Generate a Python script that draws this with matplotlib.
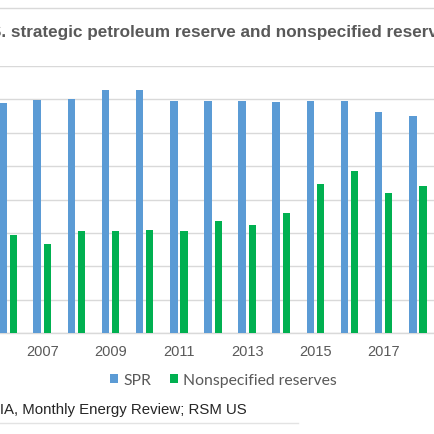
import numpy as np
import matplotlib
matplotlib.use("Agg")
import matplotlib.pyplot as plt
from matplotlib.lines import Line2D

# end-of-year stocks, million barrels
years = [2006, 2007, 2008, 2009, 2010, 2011, 2012, 2013, 2014, 2015, 2016, 2017, 2018]
spr = [689, 697, 702, 727, 727, 696, 695, 696, 691, 695, 695, 663, 649]
nonspec = [293, 267, 305, 305, 310, 305, 336, 324, 360, 446, 484, 419, 441]

title = "U.S. strategic petroleum reserve and nonspecified reserves"
source = "Source: EIA, Monthly Energy Review; RSM US"

W = H = 435
fig = plt.figure(figsize=(4.35, 4.35), dpi=100)
fig.patch.set_facecolor("white")

# plot area, partly outside the crop
step = 34.14
x0 = 8.2 - 0.5 * step
x1 = 8.2 + 12.6 * step
ax = fig.add_axes([x0 / W, (H - 334) / H, (x1 - x0) / W, (334 - 67) / H])

idx = np.arange(len(years))
ax.bar(idx - 0.151, spr, width=0.222, color="#5B9BD5", linewidth=0, label="SPR", zorder=3)
ax.bar(idx + 0.151, nonspec, width=0.21, color="#00B050", linewidth=0,
       label="Nonspecified reserves", zorder=3)

ax.set_xlim(-0.5, 12.6)
ax.set_ylim(0, 800)
ax.set_yticks(np.arange(0, 801, 100))
ax.yaxis.grid(True, color="#D9D9D9", linewidth=1.0, zorder=0)
ax.tick_params(axis="y", left=False, labelleft=False)
ax.set_xticks(idx[1::2])
ax.set_xticklabels([str(y) for y in years[1::2]], fontsize=10.5, color="#595959", family="Liberation Sans")
ax.tick_params(axis="x", length=0, pad=8)
for s in ["left", "right", "top"]:
    ax.spines[s].set_visible(False)
ax.spines["bottom"].set_color("#D9D9D9")
ax.spines["bottom"].set_linewidth(1.0)

renderer = fig.canvas.get_renderer()

def place(text, prefix, xstart, ycenter, **kw):
    # put text so that the part after prefix starts at xstart pixels
    t = fig.text(0, 0, prefix, **kw)
    w = t.get_window_extent(renderer).width
    t.remove()
    fig.text((xstart - w) / W, 1 - ycenter / H, text, va="center", ha="left", **kw)

place(title, "U.S", 1, 33, fontsize=12.3, fontweight="bold", color="#595959", family="Liberation Sans")
place(source, "Source: E", 0.3, 410.5, fontsize=10.85, color="#262626", family="Liberation Sans")

leg = fig.legend(loc="center left", bbox_to_anchor=(110 / W, 1 - 381 / H), ncol=2, frameon=False,
                 prop={"family": "Lato", "size": 11.3}, labelcolor="#595959",
                 borderpad=0, borderaxespad=0,
                 handlelength=0.53, handleheight=0.57, handletextpad=0.32, columnspacing=1.2)

fig.add_artist(Line2D([0, 1], [1 - 9 / H, 1 - 9 / H], color="#D9D9D9", linewidth=1.0))
fig.add_artist(Line2D([0, 298 / W], [1 - 424 / H, 1 - 424 / H], color="#E3E3E3", linewidth=1.0))

fig.savefig("out.png", dpi=100)
